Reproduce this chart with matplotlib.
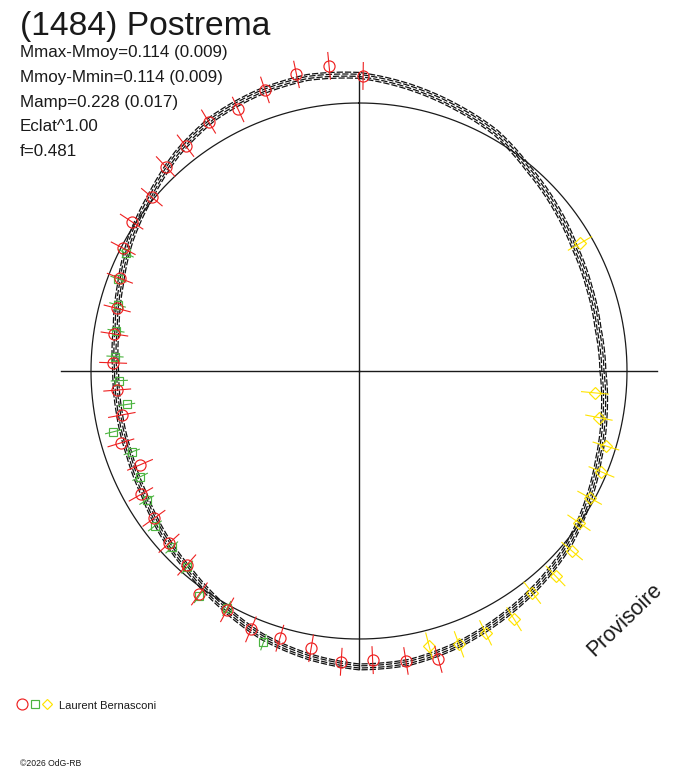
import numpy as np
import matplotlib
matplotlib.use("Agg")
import matplotlib.pyplot as plt
from matplotlib.path import Path
from matplotlib.patches import PathPatch

# ---------------- data ----------------
title = "(1484) Postrema"
stats_lines = ["Mmax-Mmoy=0.114 (0.009)",
               "Mmoy-Mmin=0.114 (0.009)",
               "Mamp=0.228 (0.017)",
               "Eclat^1.00",
               "f=0.481"]
observer = "Laurent Bernasconi"
copyright_txt = "\u00a92026 OdG-RB"
watermark = "Provisoire"

# model curve: radius (1 = mean brightness) every 10 deg of rotational phase
model_phase_deg = [0, 10, 20, 30, 40, 50, 60, 70, 80, 90,
                   100, 110, 120, 130, 140, 150, 160, 170, 180, 190,
                   200, 210, 220, 230, 240, 250, 260, 270, 280, 290,
                   300, 310, 320, 330, 340, 350]
model_r = [1.103, 1.077, 1.050, 1.025, 0.984, 0.955, 0.928, 0.914, 0.906, 0.910,
           0.929, 0.952, 0.984, 1.017, 1.041, 1.063, 1.086, 1.103, 1.104, 1.082,
           1.055, 1.015, 0.978, 0.952, 0.925, 0.912, 0.908, 0.908, 0.920, 0.947,
           0.984, 1.015, 1.057, 1.089, 1.104, 1.112]
# spread of the family of model solutions
band_offsets = [-0.011, -0.004, 0.004, 0.011]

red_phase = [354.4, 348.1, 341.5, 335.2, 328.9, 322.4, 316.6, 310.0, 303.3, 297.5,
             291.2, 284.5, 278.6, 271.9, 265.5, 259.5, 253.2, 246.8, 240.5, 234.3,
             227.8, 221.6, 215.6, 208.9, 202.7, 196.5, 189.8, 183.5, 177.3, 170.8,
             164.6, 0.8]
red_r = [1.144, 1.131, 1.106, 1.075, 1.087, 1.061, 1.050, 1.009, 1.015, 0.992,
         0.957, 0.932, 0.923, 0.918, 0.905, 0.900, 0.928, 0.889, 0.935, 0.942,
         0.957, 0.968, 1.023, 1.018, 1.045, 1.040, 1.050, 1.087, 1.080, 1.096,
         1.116, 1.101]
red_err = 0.05

green_phase = [296.8, 290.9, 285.3, 279.4, 273.4, 267.7, 261.8, 256.1, 250.4, 244.2,
               238.7, 232.8, 226.7, 221.2, 215.4, 209.1, 199.4]
green_r = [0.974, 0.961, 0.934, 0.919, 0.912, 0.895, 0.876, 0.944, 0.900, 0.907,
           0.927, 0.956, 0.960, 0.973, 1.030, 1.014, 1.073]
green_err = 0.03

yellow_phase = [60.0, 95.3, 101.0, 106.9, 112.6, 118.8, 124.6, 130.2, 136.2, 142.0,
                148.0, 154.2, 159.9, 165.7]
yellow_r = [0.952, 0.884, 0.912, 0.963, 0.980, 0.982, 0.997, 1.041, 1.060, 1.050,
            1.092, 1.085, 1.086, 1.059]
yellow_err = 0.05

# ---------------- figure ----------------
plt.rcParams['font.family'] = ['Liberation Sans', 'DejaVu Sans']
W, H, DPI = 688, 768, 100
fig = plt.figure(figsize=(W / DPI, H / DPI), dpi=DPI)
fig.patch.set_facecolor('white')

CX, CY = 359, 371      # centre of the polar diagram (pixels from top-left)
SCALE = 268            # pixels per unit radius
RMAX = 1.3
RP = RMAX * SCALE
ax = fig.add_axes([(CX - RP) / W, (H - CY - RP) / H, 2 * RP / W, 2 * RP / H],
                  projection='polar')
ax.set_theta_zero_location('N')
ax.set_theta_direction(-1)
ax.set_rlim(0, RMAX)
ax.set_axis_off()

RED = '#ee2020'
GREEN = '#4cb440'
YELLOW = '#ffe400'
INK = '#1a1a1a'

# reference circle (mean brightness)
tc = np.linspace(0, 2 * np.pi, 721)
ax.plot(tc, np.ones_like(tc), color=INK, lw=0.9, clip_on=False)

# cross hair
for ang in (0, 90, 180, 270):
    a = np.deg2rad(ang)
    ax.plot([a, a], [0, 1.112], color=INK, lw=1.0, clip_on=False)

# model family
th = np.deg2rad(np.array(model_phase_deg + [360.0]))
rr = np.array(model_r + [model_r[0]])
for k, off in enumerate(band_offsets):
    p = Path(np.column_stack([th, rr + off]), _interpolation_steps=24)
    patch = PathPatch(p, transform=ax.transData, fill=False, edgecolor='#111111',
                      lw=0.9, linestyle=(k * 1.7, (5.0, 1.6)), clip_on=False)
    ax.add_patch(patch)

# observations with radial error bars
def draw_points(phase, r, err, color, marker, ms):
    t = np.deg2rad(np.array(phase))
    r = np.array(r)
    for ti, ri in zip(t, r):
        ax.plot([ti, ti], [ri - err, ri + err], color=color, lw=0.8, clip_on=False)
    ax.plot(t, r, linestyle='none', marker=marker, ms=ms, mfc='none', mec=color,
            mew=0.85, clip_on=False)

draw_points(yellow_phase, yellow_r, yellow_err, YELLOW, 'D', 6.0)
draw_points(green_phase, green_r, green_err, GREEN, 's', 6.3)
draw_points(red_phase, red_r, red_err, RED, 'o', 8.0)

# ---------------- overlay for text ----------------
ov = fig.add_axes([0, 0, 1, 1])
ov.set_xlim(0, W)
ov.set_ylim(H, 0)
ov.axis('off')

ov.text(20, 34.5, title, fontsize=24.2, color=INK, va='baseline', ha='left')
for i, s in enumerate(stats_lines):
    ov.text(20, 57.3 + 24.7 * i, s, fontsize=12.25, color=INK, va='baseline', ha='left')

ov.text(625, 620, watermark, fontsize=15.5, color=INK, rotation=44,
        ha='center', va='center', rotation_mode='anchor')

# legend
ov.plot([22], [704], marker='o', ms=7.9, mfc='none', mec=RED, mew=0.85)
ov.plot([35], [704], marker='s', ms=5.8, mfc='none', mec=GREEN, mew=0.85)
ov.plot([47], [704], marker='D', ms=5.6, mfc='none', mec=YELLOW, mew=0.85)
ov.text(59, 709, observer, fontsize=8.0, color=INK, va='baseline', ha='left')
ov.text(20, 766, copyright_txt, fontsize=6.2, color=INK, va='baseline', ha='left')

fig.savefig('out.png', dpi=DPI, facecolor='white')
